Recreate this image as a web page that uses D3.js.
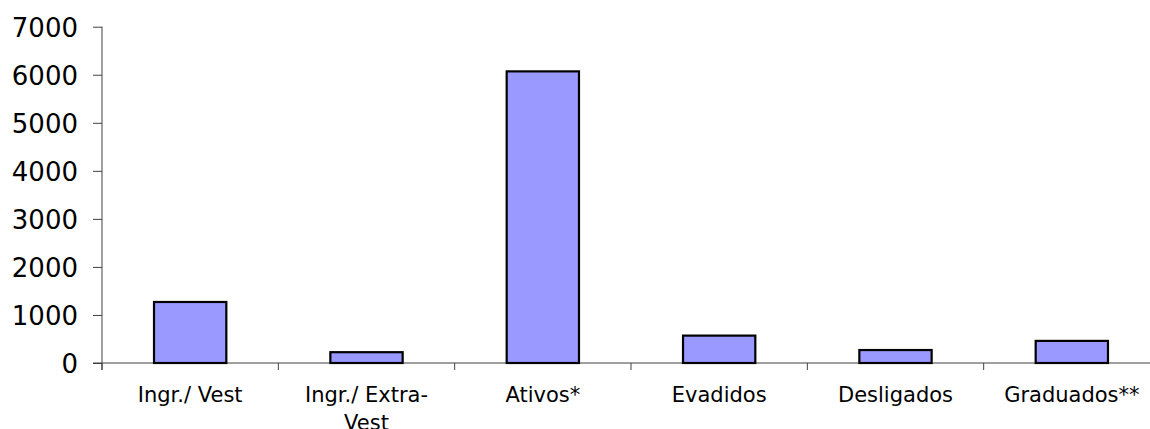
<!DOCTYPE html>
<html lang="en">
<head>
	<meta charset="utf-8">
	<script src="https://d3js.org/d3.v7.min.js"></script>
	<style type="text/css">
		body { margin: 0; background: #fff; }
		svg { display: block; font-family: "DejaVu Sans", Verdana, sans-serif; }
		.axis path, .axis line { stroke: #404040; }
	</style>
</head>
<body>
	<script type="text/javascript">
	var width = 1150;
	var height = 429;

	// chart data
	var categories = ["Ingr./ Vest", "Ingr./ Extra-Vest", "Ativos*", "Evadidos", "Desligados", "Graduados**"];
	var values = [1270, 225, 6070, 570, 270, 460];
	var yTicks = [0, 1000, 2000, 3000, 4000, 5000, 6000, 7000];

	var plotLeft = 102, plotRight = 1160, plotTop = 26.7, plotBottom = 363;

	var svg = d3.select("body").append("svg")
				.attr("width", width)
				.attr("height", height);

	var x = d3.scaleBand()
			  .domain(categories)
			  .range([plotLeft, plotRight])
			  .paddingInner(0.59)
			  .paddingOuter(0.295);

	var y = d3.scaleLinear()
			  .domain([0, 7000])
			  .range([plotBottom, plotTop]);

	var step = x.step();

	// y axis
	var yAxis = svg.append("g")
				   .attr("class", "axis")
				   .attr("transform", "translate(" + plotLeft + ",0)")
				   .call(d3.axisLeft(y).tickValues(yTicks).tickFormat(d3.format("d"))
				   		.tickSize(9).tickPadding(15).tickSizeOuter(0));
	yAxis.attr("font-family", null).attr("font-size", null);
	yAxis.select(".domain").remove();
	yAxis.append("line")
		 .attr("x1", 0).attr("x2", 0)
		 .attr("y1", y(7000)).attr("y2", plotBottom + 7)
		 .attr("stroke", "#404040");
	yAxis.selectAll("text")
		 .attr("fill", "#000")
		 .style("font-size", "26px")
		 .attr("dy", "0.36em");

	// x axis line and ticks at band edges
	var xg = svg.append("g").attr("class", "axis");
	xg.append("line")
	  .attr("x1", plotLeft - 9).attr("x2", plotRight)
	  .attr("y1", plotBottom).attr("y2", plotBottom);
	xg.selectAll("line.tick")
	  .data(d3.range(categories.length + 1))
	  .enter()
	  .append("line")
	  .attr("class", "tick")
	  .attr("x1", function(i) { return plotLeft + i * step; })
	  .attr("x2", function(i) { return plotLeft + i * step; })
	  .attr("y1", plotBottom)
	  .attr("y2", plotBottom + 7);

	// bars
	svg.selectAll("rect.bar")
	   .data(values)
	   .enter()
	   .append("rect")
	   .attr("class", "bar")
	   .attr("x", function(d, i) { return x(categories[i]); })
	   .attr("width", x.bandwidth())
	   .attr("y", function(d) { return y(d); })
	   .attr("height", function(d) { return y(0) - y(d); })
	   .attr("fill", "#9999ff")
	   .attr("stroke", "#000")
	   .attr("stroke-width", 2.2);

	// category labels, wrapped when too wide
	var labels = svg.selectAll("text.cat")
					.data(categories)
					.enter()
					.append("text")
					.attr("class", "cat")
					.attr("text-anchor", "middle")
					.style("font-size", "21px")
					.attr("fill", "#000");

	labels.each(function(d) {
		var t = d3.select(this);
		var cx = x(d) + x.bandwidth() / 2;
		t.text(d);
		var lines = [d];
		if (this.getComputedTextLength() > step * 0.88) {
			var cut = d.lastIndexOf("-");
			if (cut < 0) cut = d.lastIndexOf(" ");
			lines = [d.slice(0, cut + 1).trim(), d.slice(cut + 1).trim()];
		}
		t.text(null);
		lines.forEach(function(l, k) {
			t.append("tspan")
			 .attr("x", cx)
			 .attr("y", 402 + k * 28)
			 .text(l);
		});
	});
	</script>
</body>
</html>
